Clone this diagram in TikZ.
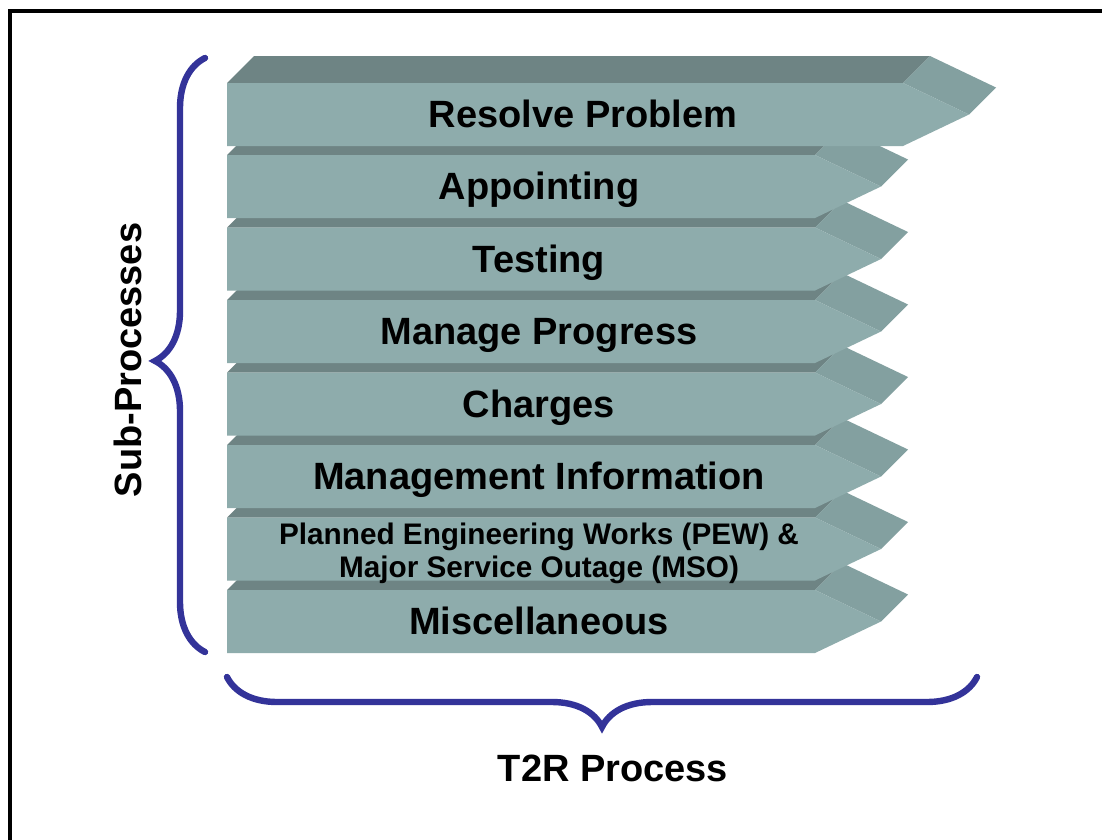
\documentclass[tikz,border=0pt]{standalone}
\usepackage{fontspec}
\setmainfont{Liberation Sans}
\usepackage{tikz}
\usetikzlibrary{decorations.pathreplacing}
\definecolor{barfront}{RGB}{142,172,172}
\definecolor{bartop}{RGB}{110,132,132}
\definecolor{barside}{RGB}{131,160,160}
\definecolor{braceblue}{RGB}{51,51,153}
\begin{document}
\begin{tikzpicture}[x=0.75pt,y=-0.75pt,
		barlabel/.style={font=\bfseries\fontsize{28.5}{30}\selectfont,inner sep=0pt,anchor=base,xshift=13.5pt,yshift=-10pt},
		smalllabel/.style={font=\bfseries\fontsize{22.3}{24.75}\selectfont,inner sep=0pt,align=center,xshift=13.5pt,yshift=-3.4pt},
		curly/.style={decorate,decoration={brace,amplitude=37.5pt},draw=braceblue,line width=4.8pt,line cap=round}]
		\useasboundingbox (0,0) rectangle (1102,839);
		\clip (0,0) rectangle (1102,839);
		\fill[white] (0,0) rectangle (1102,839);
		\draw[line width=3pt] (10,11) rectangle (1130,870);
		\foreach \i/\t/\r in {8/590/815,7/517.5/815,6/445/815,5/372.5/815,4/300/815,3/227.5/815,2/155/815,1/83/903}{
			\fill[bartop] (227,\t) -- (254,\t-27) -- (\r+27,\t-27) -- (\r,\t) -- cycle;
			\fill[barside] (\r,\t) -- (\r+27,\t-27) -- (\r+93,\t+4.5) -- (\r+66,\t+31.5) -- cycle;
			\fill[barfront] (227,\t) -- (\r,\t) -- (\r+66,\t+31.5) -- (\r,\t+63) -- (227,\t+63) -- cycle;
			\coordinate (bar\i) at (227/2+\r/2,\t+31.5);
		}
		\node[barlabel] (resolve) at (bar1) {Resolve Problem};
		\node[barlabel] (appointing) at (bar2) {Appointing};
		\node[barlabel] (testing) at (bar3) {Testing};
		\node[barlabel] (progress) at (bar4) {Manage Progress};
		\node[barlabel] (charges) at (bar5) {Charges};
		\node[barlabel] (mi) at (bar6) {Management Information};
		\node[smalllabel] (pew) at (bar7) {Planned Engineering Works (PEW) \&\\Major Service Outage (MSO)};
		\node[barlabel] (misc) at (bar8) {Miscellaneous};
		\coordinate (subbottom) at (205,652);
		\coordinate (subtop) at (205,58);
		\coordinate (t2rright) at (977,677);
		\coordinate (t2rleft) at (227,677);
		\draw[curly,decoration={aspect=0.49}] (subbottom) -- (subtop);
		\draw[curly] (t2rright) -- (t2rleft);
		\node[font=\bfseries\fontsize{28.5}{30}\selectfont,rotate=90,inner sep=0pt] (sub) at (128,360) {Sub-Processes};
		\node[font=\bfseries\fontsize{28.5}{30}\selectfont,inner sep=0pt] (t2r) at (613,768) {T2R Process};
\end{tikzpicture}
\end{document}
